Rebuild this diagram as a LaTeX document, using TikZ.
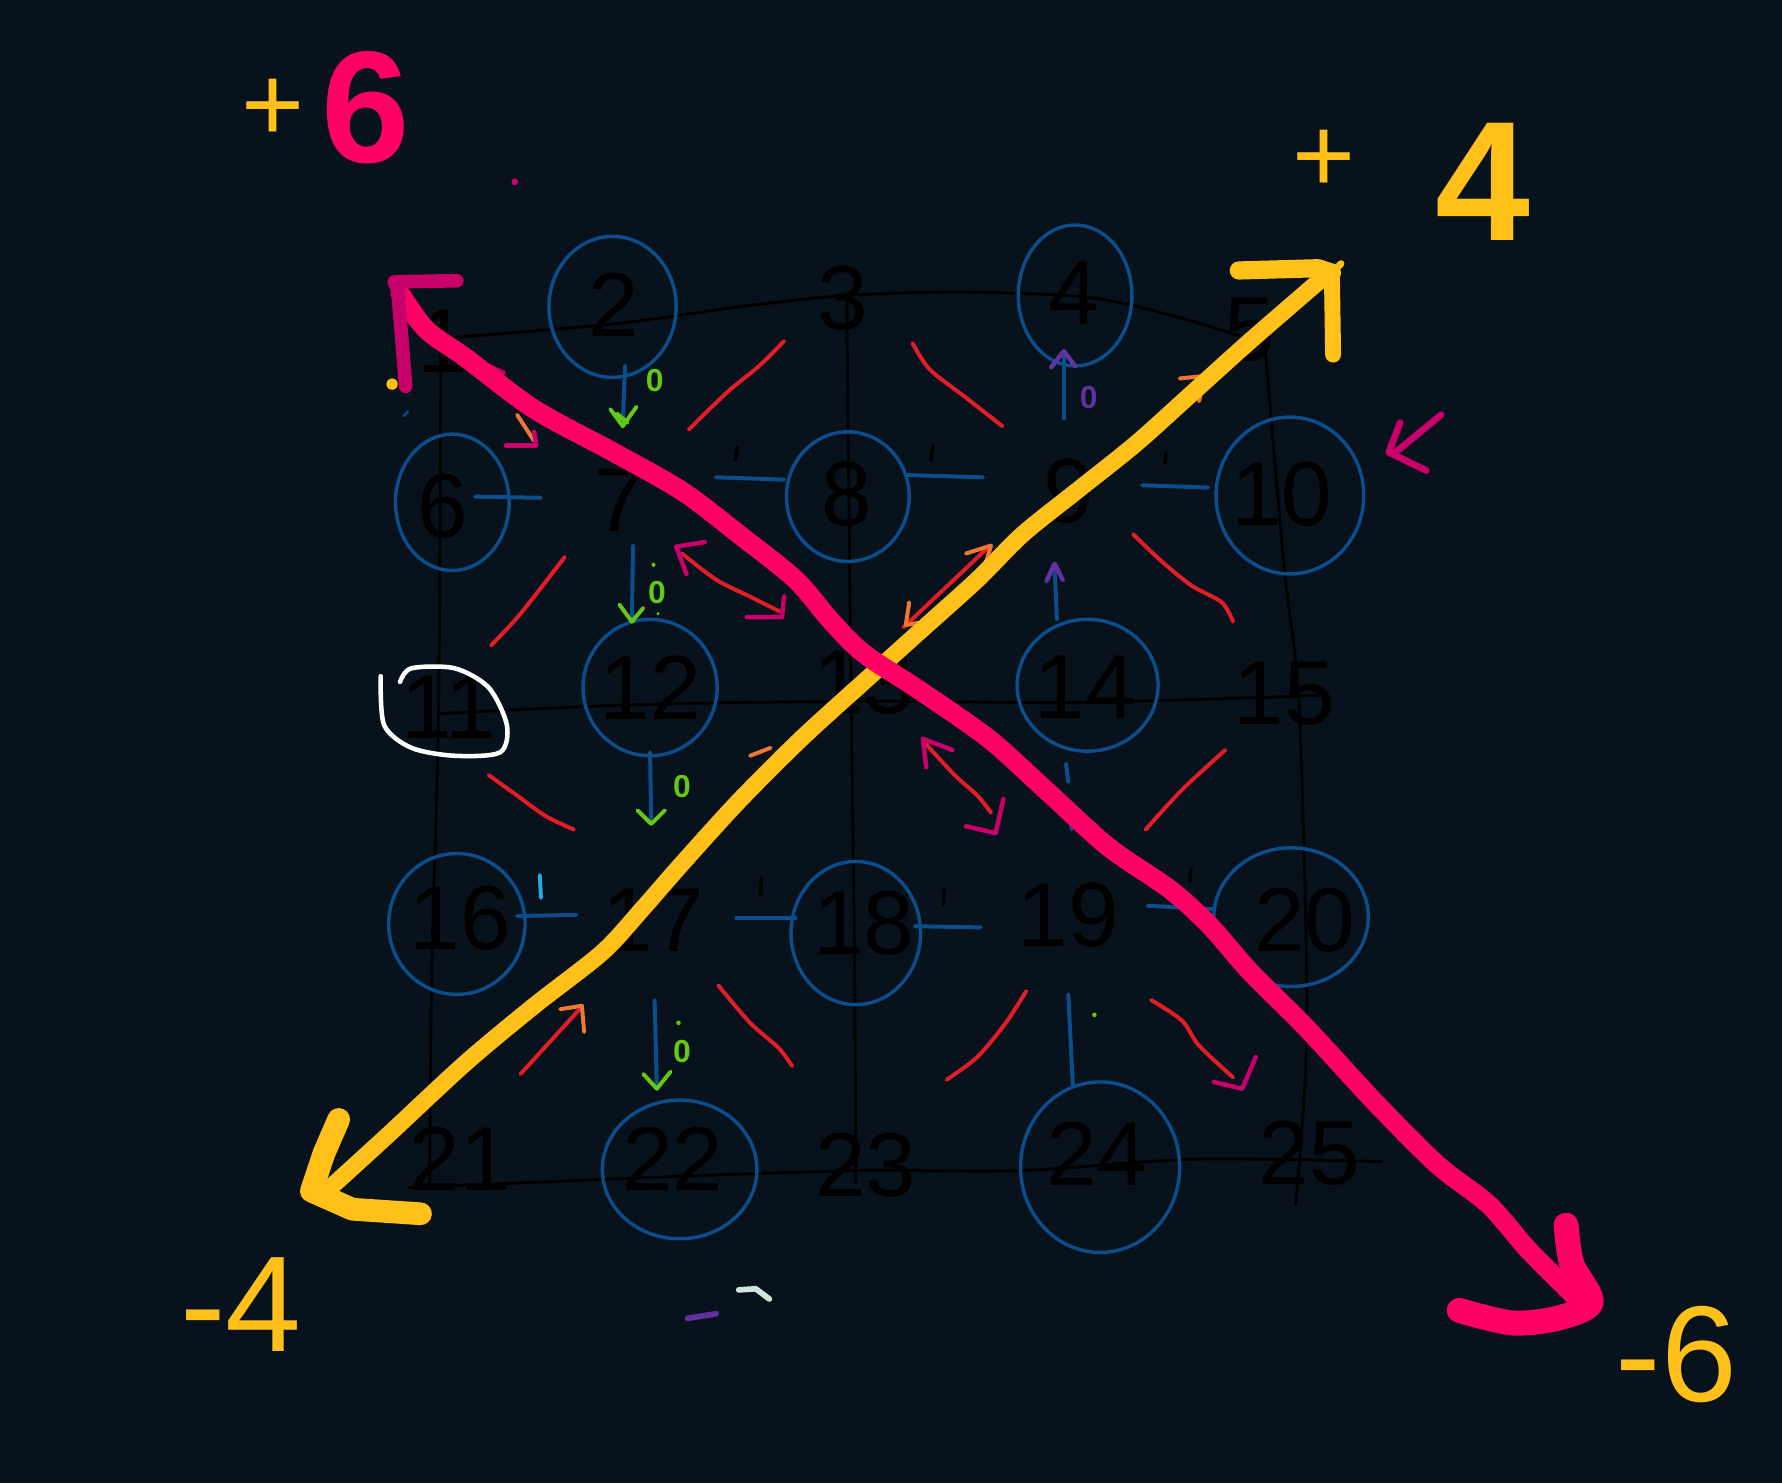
\documentclass[tikz,border=0pt]{standalone}
\usepackage{fontspec}
\setmainfont{Liberation Sans}
\definecolor{bg}{RGB}{8,18,28}
\definecolor{ringblue}{RGB}{12,78,140}
\definecolor{strokered}{RGB}{225,30,40}
\definecolor{hotpink}{RGB}{255,0,102}
\definecolor{darkpink}{RGB}{200,0,106}
\definecolor{gold}{RGB}{255,192,25}
\definecolor{lime}{RGB}{100,200,20}
\definecolor{violet}{RGB}{95,50,160}
\definecolor{orng}{RGB}{240,120,50}
\definecolor{lblue}{RGB}{40,170,225}
\definecolor{mint}{RGB}{205,232,218}
\begin{document}
\begin{tikzpicture}[x=1pt,y=-1pt,line cap=round,line join=round,
  num/.style={text=black,font=\fontsize{80}{80}\selectfont,inner sep=0pt},
  ring/.style={draw=ringblue,line width=3},
  gridline/.style={draw=black,line width=2.5},
  link/.style={draw=ringblue,line width=3.5},
  tick/.style={draw=black,line width=3},
  redstroke/.style={draw=strokered,line width=3.5},
  greenhead/.style={draw=lime,line width=3.5},
  violethead/.style={draw=violet,line width=4},
  pinkhead/.style={draw=darkpink,line width=4},
  orangehead/.style={draw=orng,line width=3.5},
  zero/.style={inner sep=0pt,font=\fontsize{28}{28}\selectfont\bfseries},
  bigarrow/.style={line width=17},
]
\useasboundingbox (0,0) rectangle (1568,1305);
\fill[bg] (0,0) rectangle (1568,1305);

% grid
\draw[gridline] plot[smooth] coordinates {(385,298) (540,285) (650,270) (745,260) (850,257) (960,262) (1040,280) (1110,302)};
\draw[gridline] plot[smooth] coordinates {(385,628) (560,620) (760,617) (950,618) (1160,612)};
\draw[gridline] plot[smooth] coordinates {(360,1045) (600,1035) (760,1030) (900,1030) (1050,1020) (1215,1022)};
\draw[gridline] plot[smooth] coordinates {(388,290) (386,620) (380,850) (378,1045)};
\draw[gridline] plot[smooth] coordinates {(745,262) (749,620) (752,850) (753,1040)};
\draw[gridline] plot[smooth] coordinates {(1112,292) (1130,500) (1143,620) (1150,900) (1140,1060)};

% numbers
\node[num] (n1) at (390,300) {1};
\node[num] (n2) at (540,268) {2};
\node[num] (n3) at (742,262) {3};
\node[num] (n4) at (945,258) {4};
\node[num] (n5) at (1100,290) {5};
\node[num] (n6) at (390,445) {6};
\node[num] (n7) at (545,440) {7};
\node[num] (n8) at (745,435) {8};
\node[num] (n9) at (940,432) {9};
\node[num] (n10) at (1128,435) {10};
\node[num] (n11) at (395,622) {11};
\node[num] (n12) at (572,605) {12};
\node[num] (n13) at (760,600) {13};
\node[num] (n14) at (955,605) {14};
\node[num] (n15) at (1130,610) {15};
\node[num] (n16) at (405,808) {16};
\node[num] (n17) at (575,810) {17};
\node[num] (n18) at (760,812) {18};
\node[num] (n19) at (940,805) {19};
\node[num] (n20) at (1148,810) {20};
\node[num] (n21) at (405,1020) {21};
\node[num] (n22) at (592,1020) {22};
\node[num] (n23) at (762,1025) {23};
\node[num] (n24) at (965,1015) {24};
\node[num] (n25) at (1152,1015) {25};

% blue rings
\draw[ring] (539,270) ellipse [x radius=56,y radius=62];
\draw[ring] (946,260) ellipse [x radius=50,y radius=62];
\draw[ring] (398,442) ellipse [x radius=50,y radius=60];
\draw[ring] (746,437) ellipse [x radius=54,y radius=57];
\draw[ring] (1135,436) ellipse [x radius=65,y radius=69];
\draw[ring] (572,605) ellipse [x radius=59,y radius=60];
\draw[ring] (957,603) ellipse [x radius=62,y radius=58];
\draw[ring] (402,813) ellipse [x radius=60,y radius=62];
\draw[ring] (753,821) ellipse [x radius=57,y radius=63];
\draw[ring] (1136,807) ellipse [x radius=68,y radius=61];
\draw[ring] (598,1029) ellipse [x radius=68,y radius=61];
\draw[ring] (968,1027) ellipse [x radius=70,y radius=75];

% white ring around 11
\draw[white,line width=4] plot[smooth] coordinates {(352,600) (362,588) (400,588) (430,605) (446,638) (440,662) (400,665) (362,658) (338,638) (335,595)};

% horizontal links with 1 ticks
\draw[link] (418,437) -- (476,438);
\draw[link] (630,420) -- (690,422);
\draw[link] (798,418) -- (865,420);
\draw[link] (1005,427) -- (1063,429);
\draw[link] (455,806) -- (507,805);
\draw[link] (648,808) -- (700,808);
\draw[link] (805,815) -- (863,816);
\draw[link] (1010,797) -- (1068,800);
\draw[tick] (649,393) -- (647,405);
\draw[tick] (821,392) -- (819,405);
\draw[tick] (1026,398) -- (1025,408);
\draw[draw=lblue,line width=3.5] (475,770) -- (476,790);
\draw[tick] (670,772) -- (669,788);
\draw[tick] (831,782) -- (830,796);
\draw[tick] (1048,764) -- (1047,776);
\draw[link] (938,672) -- (940,688);
\draw[link] (942,718) -- (943,730);

% vertical arrows, green heads
\draw[link] (550,322) -- (548,372);
\draw[greenhead] (537,360) -- (548,375) -- (560,358) (543,364) -- (552,372);
\node[zero,text=lime] (z1) at (576,335) {0};
\draw[link] (557,480) -- (556,545);
\draw[greenhead] (545,532) -- (556,547) -- (566,535);
\node[zero,text=lime] (z2) at (578,521) {0};
\fill[lime] (575,497) circle (1.8) (579,540) circle (1.5);
\draw[link] (572,662) -- (573,725);
\draw[greenhead] (561,713) -- (573,725) -- (585,713);
\node[zero,text=lime] (z3) at (600,692) {0};
\draw[link] (576,880) -- (578,958);
\draw[greenhead] (566,945) -- (578,958) -- (590,943);
\node[zero,text=lime] (z4) at (600,925) {0};
\fill[lime] (597,900) circle (2);

% violet heads (upward)
\draw[link] (936,368) -- (936,312);
\draw[violethead] (925,323) -- (936,309) -- (946,322);
\node[zero,text=violet] (z5) at (958,350) {0};
\draw[link] (930,545) -- (928,500);
\draw[violethead] (921,511) -- (928,496) -- (935,510);
\draw[link] (940,875) -- (944,955);
\fill[lime] (963,893) circle (2);

% red diagonal strokes
\draw[redstroke] plot[smooth] coordinates {(606,378) (640,345) (668,322) (690,300)};
\draw[redstroke] plot[smooth] coordinates {(803,302) (818,325) (850,350) (882,375)};
\draw[redstroke] plot[smooth] coordinates {(432,568) (458,540) (497,490)};
\draw[redstroke] plot[smooth] coordinates {(997,470) (1020,492) (1048,515) (1075,530) (1085,547)};
\draw[redstroke] plot[smooth] coordinates {(430,682) (455,700) (480,718) (505,730)};
\draw[redstroke] plot[smooth] coordinates {(1008,730) (1040,695) (1078,660)};
\draw[redstroke] plot[smooth] coordinates {(632,867) (660,900) (685,922) (697,938)};
\draw[redstroke] plot[smooth] coordinates {(833,950) (860,930) (885,900) (903,872)};
\draw[redstroke] (458,945) -- (510,888);
\draw[orangehead] (493,888) -- (512,885) -- (514,908);
\draw[redstroke] plot[smooth] coordinates {(1013,880) (1040,898) (1055,920) (1085,948)};
\draw[pinkhead] (1068,952) -- (1093,958) -- (1105,930);
% double arrows
\draw[redstroke] plot[smooth] coordinates {(600,487) (630,510) (660,525) (686,538)};
\draw[pinkhead] (620,477) -- (595,481) -- (604,505);
\draw[pinkhead] (657,543) -- (688,543) -- (690,525);
\draw[redstroke] plot[smooth] coordinates {(815,655) (840,682) (860,700) (872,715)};
\draw[pinkhead] (838,660) -- (812,650) -- (815,675);
\draw[pinkhead] (850,727) -- (876,733) -- (883,703);
% small remnants
\draw[redstroke] (795,552) -- (868,483);
\draw[orangehead] (850,487) -- (872,480) -- (866,500);
\draw[orangehead] (800,530) -- (797,550) -- (808,548);
\draw[orangehead] (660,665) -- (678,658);
\draw[orangehead] (1038,333) -- (1058,331) (1058,340) -- (1055,353);
\draw[orangehead] (455,365) -- (470,388);
\draw[pinkhead] (445,392) -- (472,392) -- (470,380);
\draw[pinkhead] (430,322) -- (443,328);
\draw[draw=ringblue,line width=2] (355,366) -- (359,362);

% big yellow arrow
\draw[gold,line width=15] plot[smooth] coordinates {(283,1052) (340,1000) (410,935) (470,885) (530,838) (565,800) (600,760) (650,705) (705,650) (760,600) (810,555) (860,510) (900,470) (950,430) (1000,390) (1050,345) (1100,300) (1160,248)};
\draw[gold,line width=16] (1090,238) -- (1160,236) -- (1172,240);
\draw[gold,line width=14] (1172,245) -- (1173,312);
\draw[gold,line width=6] (1172,240) -- (1180,232);
\draw[gold,line width=20] (298,985) -- (285,1015) -- (274,1048) -- (310,1064) -- (370,1068);

% big pink arrow
\draw[hotpink,bigarrow] plot[smooth] coordinates {(352,258) (375,290) (410,315) (470,360) (540,398) (600,432) (650,470) (700,510) (730,545) (760,575) (810,608) (870,650) (920,695) (975,745) (1030,783) (1065,815) (1100,855) (1150,905) (1210,970) (1265,1025) (1310,1060) (1345,1100) (1390,1145)};
\draw[darkpink,line width=12] (357,340) -- (350,255) -- (347,248) -- (402,247);
\draw[hotpink,line width=22] plot[smooth] coordinates {(1378,1078) (1383,1112) (1400,1146) (1370,1160) (1330,1164) (1284,1153)};

% small dots and marks
\fill[gold] (345,338) circle (5);
\fill[darkpink] (453,160) circle (3);
\draw[darkpink,line width=6] (1268,365) -- (1228,398);
\draw[darkpink,line width=6] (1232,372) -- (1222,398) -- (1255,414);
\draw[violet,line width=5] (605,1160) -- (630,1156);
\draw[mint,line width=5] (650,1135) -- (665,1134) -- (677,1143);

% corner labels
\node[text=gold,inner sep=0pt,font=\fontsize{95}{95}\selectfont] (pa) at (240,97) {+};
\node[text=hotpink,inner sep=0pt,font=\fontsize{140}{140}\selectfont\bfseries] (p6) at (322,95) {6};
\node[text=gold,inner sep=0pt,font=\fontsize{95}{95}\selectfont] (pb) at (1165,142) {+};
\node[text=gold,inner sep=0pt,font=\fontsize{150}{150}\selectfont\bfseries] (p4) at (1305,160) {4};
\node[text=gold,inner sep=0pt,font=\fontsize{120}{120}\selectfont] (m4) at (212,1148) {-4};
\node[text=gold,inner sep=0pt,font=\fontsize{120}{120}\selectfont] (m6) at (1475,1192) {-6};
\end{tikzpicture}
\end{document}
